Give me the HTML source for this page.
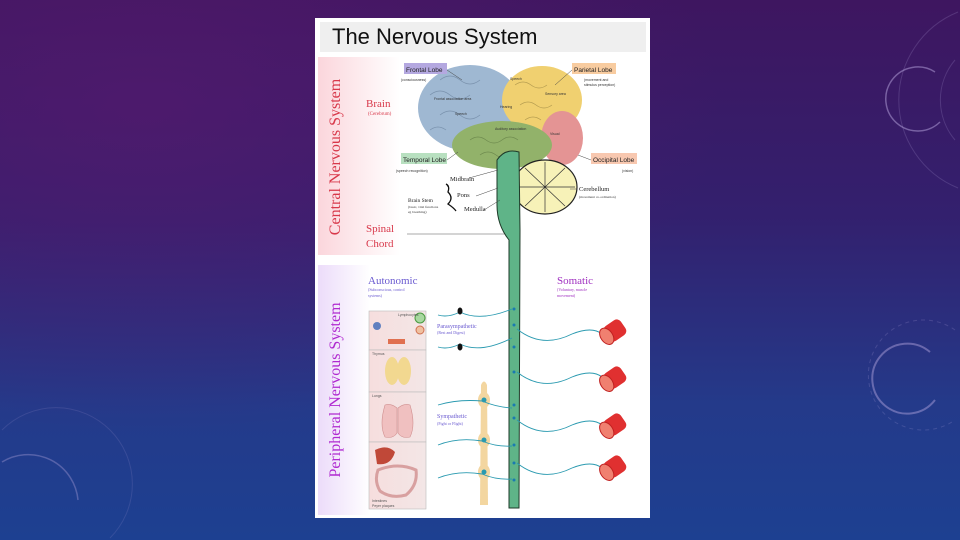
<!DOCTYPE html>
<html><head><meta charset="utf-8"><style>
html,body{margin:0;padding:0;width:960px;height:540px;overflow:hidden}
body{background:linear-gradient(180deg,#3e1660 0%,#33206e 40%,#243a8a 75%,#1d4091 100%)}
svg{position:absolute;left:0;top:0;overflow:hidden;display:block}
text{font-family:"Liberation Serif",serif}
.s{font-family:"Liberation Sans",sans-serif}
</style></head><body>
<svg width="960" height="540" viewBox="0 0 960 540" xmlns="http://www.w3.org/2000/svg">
<defs>
<radialGradient id="bg1" cx="0.15" cy="0.2" r="0.6"><stop offset="0" stop-color="#5a1a70" stop-opacity=".6"/><stop offset="1" stop-color="#5a1a70" stop-opacity="0"/></radialGradient>
<linearGradient id="cns" x1="0" x2="1"><stop offset="0" stop-color="#fbd6dc"/><stop offset="1" stop-color="#fff"/></linearGradient>
<linearGradient id="pns" x1="0" x2="1"><stop offset="0" stop-color="#ecdcfa"/><stop offset="1" stop-color="#fff"/></linearGradient>
<linearGradient id="org" x1="0" x2="1"><stop offset="0" stop-color="#f6dede"/><stop offset="1" stop-color="#f3e6e6"/></linearGradient>
</defs>
<rect width="960" height="540" fill="url(#bg1)"/>
<!-- decorations (kept inside frame) -->
<g fill="none" stroke="#b9a8e0" stroke-opacity=".2">
<path d="M958 12 A95 95 0 0 0 958 188"/>
<path d="M955 60 A62 62 0 0 0 955 140"/>
<path d="M935 72 A32 32 0 1 0 940 122" stroke-width="1.5" stroke-opacity=".5"/>
<path d="M955 330 A55 55 0 1 0 955 420" stroke-dasharray="4 4"/>
<path d="M930 352 A35 35 0 1 0 935 400" stroke-width="2" stroke-opacity=".45"/>
<path d="M2 430 A75 75 0 0 1 110 538" stroke-opacity=".15"/>
<path d="M2 462 A50 50 0 0 1 78 500" stroke-width="1.5" stroke-opacity=".35"/>
</g>
<!-- panel -->
<rect x="315" y="18" width="335" height="500" fill="#fff"/>
<rect x="320" y="22" width="326" height="30" fill="#efefef"/>
<text x="332" y="44" class="s" font-size="22" fill="#111">The Nervous System</text>
<rect x="318" y="57" width="82" height="198" fill="url(#cns)"/>
<rect x="318" y="265" width="52" height="250" fill="url(#pns)"/>
<text transform="translate(340,157) rotate(-90)" text-anchor="middle" font-size="16" fill="#d8384a">Central Nervous System</text>
<text transform="translate(340,390) rotate(-90)" text-anchor="middle" font-size="16" fill="#b02ad0">Peripheral Nervous System</text>
<text x="366" y="107" font-size="11" fill="#d8384a">Brain</text>
<text x="368" y="115" font-size="5" fill="#d8384a">(Cerebrum)</text>
<text x="366" y="232" font-size="11" fill="#d8384a">Spinal</text>
<text x="366" y="247" font-size="11" fill="#d8384a">Chord</text>
<line x1="407" y1="234" x2="512" y2="234" stroke="#555" stroke-width=".6"/>
<!-- brain -->
<ellipse cx="470" cy="108" rx="52" ry="43" fill="#9fb8d2"/>
<ellipse cx="542" cy="100" rx="40" ry="34" fill="#f0d070"/>
<ellipse cx="562" cy="138" rx="21" ry="27" fill="#e49494"/>
<ellipse cx="502" cy="145" rx="50" ry="24" fill="#92b26a"/>
<g fill="none" stroke="#6f87a3" stroke-width=".7" opacity=".8">
<path d="M430 95 q10-8 20 0 t20 0 M440 115 q10-8 20 0 t20 0 M430 130 q8-6 16 0 M440 80 q10-8 20 0 t20 0"/>
</g>
<g fill="none" stroke="#b49c50" stroke-width=".7"><path d="M515 85 q8-6 16 0 t16 0 M520 105 q8-6 16 0 t16 0 M525 120 q8-6 16 0"/></g>
<g fill="none" stroke="#6e8a4e" stroke-width=".7"><path d="M470 140 q8-6 16 0 t16 0 t16 0 M480 155 q8-6 16 0 t16 0"/></g>
<g fill="#333" class="s" font-size="3.5"><text x="434" y="100" class="s">Frontal association area</text><text x="455" y="115" class="s">Speech</text><text x="500" y="108" class="s">Hearing</text><text x="510" y="80" class="s">Speech</text><text x="495" y="130" class="s">Auditory association</text><text x="545" y="95" class="s">Sensory area</text><text x="550" y="135" class="s">Visual</text></g>
<!-- cerebellum -->
<ellipse cx="545" cy="187" rx="32" ry="27" fill="#f7f2b8" stroke="#222" stroke-width="1.2"/>
<g stroke="#333" stroke-width=".7"><path d="M545 187 L525 168 M545 187 L545 162 M545 187 L565 168 M545 187 L575 187 M545 187 L565 206 M545 187 L545 212 M545 187 L525 206 M545 187 L516 187"/></g>
<!-- brainstem & cord -->
<path d="M497 160 Q505 148 519 152 L520 230 L519 508 L509 508 L509 240 Q497 225 497 205 Z" fill="#5fb488" stroke="#1e3a28" stroke-width="1"/>
<!-- labels CNS -->
<rect x="404" y="63" width="43" height="11" fill="#b4a8e0"/><text x="406" y="72" class="s" font-size="6.5" fill="#222">Frontal Lobe</text>
<text x="401" y="81" class="s" font-size="3.5" fill="#333">(consciousness)</text>
<rect x="572" y="63" width="44" height="11" fill="#f8cca0"/><text x="574" y="72" class="s" font-size="6.5" fill="#222">Parietal Lobe</text>
<text x="584" y="81" class="s" font-size="3.5" fill="#333">(movement and</text><text x="584" y="86" class="s" font-size="3.5" fill="#333">stimulus perception)</text>
<rect x="401" y="153" width="46" height="11" fill="#b8e0c0"/><text x="403" y="162" class="s" font-size="6.5" fill="#222">Temporal Lobe</text>
<text x="396" y="172" class="s" font-size="3.5" fill="#333">(speech recognition)</text>
<rect x="591" y="153" width="46" height="11" fill="#f8c8b0"/><text x="593" y="162" class="s" font-size="6.5" fill="#222">Occipital Lobe</text>
<text x="622" y="172" class="s" font-size="3.5" fill="#333">(vision)</text>
<g stroke="#444" stroke-width=".5"><line x1="447" y1="70" x2="462" y2="80"/><line x1="572" y1="70" x2="555" y2="85"/><line x1="447" y1="160" x2="458" y2="152"/><line x1="591" y1="160" x2="578" y2="155"/><line x1="469" y1="178" x2="498" y2="170"/><line x1="476" y1="196" x2="498" y2="188"/><line x1="484" y1="210" x2="500" y2="200"/><line x1="577" y1="189" x2="570" y2="189"/></g>
<text x="450" y="181" font-size="6.5" fill="#222">Midbrain</text>
<text x="457" y="197" font-size="6.5" fill="#222">Pons</text>
<text x="464" y="211" font-size="6.5" fill="#222">Medulla</text>
<text x="408" y="202" font-size="5.5" fill="#222">Brain Stem</text>
<text x="408" y="208" font-size="3.5" fill="#333">(basic, vital functions</text><text x="408" y="213" font-size="3.5" fill="#333">eg breathing)</text>
<path d="M446 184 q4 2 2 8 q6 6 0 12 q6 4 8 7" fill="none" stroke="#111" stroke-width="1.3"/>
<text x="579" y="191" font-size="6.5" fill="#222">Cerebellum</text>
<text x="579" y="198" font-size="3.5" fill="#333">(movement co-ordination)</text>
<!-- PNS labels -->
<text x="368" y="284" font-size="11" fill="#6a5ad0">Autonomic</text>
<text x="368" y="291" font-size="4" fill="#6a5ad0">(Subconscious, control</text><text x="368" y="297" font-size="4" fill="#6a5ad0">systems)</text>
<text x="557" y="284" font-size="11" fill="#a030c0">Somatic</text>
<text x="557" y="291" font-size="4" fill="#a030c0">(Voluntary, muscle</text><text x="557" y="297" font-size="4" fill="#a030c0">movement)</text>
<text x="437" y="328" font-size="6" fill="#6a5ad0">Parasympathetic</text>
<text x="437" y="334" font-size="4" fill="#6a5ad0">(Rest and Digest)</text>
<text x="437" y="418" font-size="6" fill="#6a5ad0">Sympathetic</text>
<text x="437" y="425" font-size="4" fill="#6a5ad0">(Fight or Flight)</text>
<!-- organ panels -->
<g stroke="#bbb" stroke-width=".6" fill="url(#org)">
<rect x="369" y="311" width="57" height="39"/><rect x="369" y="350" width="57" height="42"/><rect x="369" y="392" width="57" height="50"/><rect x="369" y="442" width="57" height="67"/></g>
<circle cx="420" cy="318" r="5" fill="#a8d8a0" stroke="#4a9a40"/><circle cx="377" cy="326" r="4" fill="#6080c0"/><circle cx="420" cy="330" r="4" fill="#f0c0a0" stroke="#d07050"/><rect x="388" y="339" width="17" height="5" fill="#e07050"/>
<ellipse cx="392" cy="371" rx="7" ry="14" fill="#f2d890"/><ellipse cx="404" cy="371" rx="7" ry="14" fill="#f2d890"/>
<path d="M385 405 q-6 20 0 32 q8 2 12-4 l0-25 q-6-5-12-3z M410 405 q6 20 0 32 q-8 2-12-4 l0-25 q6-5 12-3z" fill="#f0c0c0" stroke="#d09090" stroke-width=".6"/>
<path d="M375 450 q12-6 20 2 q-4 14-18 12z" fill="#c04838"/>
<path d="M378 470 q20-8 38 0 q2 15-10 25 q-15 4-26-4 q-6-10-2-21z" fill="none" stroke="#d8a0a0" stroke-width="3"/>
<g font-size="3.5" class="s" fill="#555"><text x="372" y="355" class="s">Thymus</text><text x="372" y="397" class="s">Lungs</text><text x="372" y="502" class="s">Intestines</text><text x="372" y="507" class="s">Peyer plaques</text><text x="398" y="316" class="s">Lymphocytes</text></g>
<!-- sympathetic chain -->
<path d="M481 385 Q484 378 487 385 L488 505 L480 505 Z" fill="#f3d6a0"/>
<g fill="#f3d6a0"><ellipse cx="484" cy="400" rx="6" ry="8"/><ellipse cx="484" cy="440" rx="6" ry="8"/><ellipse cx="484" cy="472" rx="6" ry="8"/></g>
<g fill="#2a9ab0"><circle cx="484" cy="400" r="2.5"/><circle cx="484" cy="440" r="2.5"/><circle cx="484" cy="472" r="2.5"/></g>
<!-- nerves -->
<g fill="none" stroke="#2a9ab0" stroke-width=".9">
<path d="M438 315 q10 3 22-3 q20 10 52-3"/><path d="M438 347 q10 3 22-3 q20 10 52-6"/>
<path d="M438 405 q20-6 44-4 q14 6 30 7"/><path d="M438 445 q20-8 44-4 q14 6 30 5"/><path d="M438 478 q20-8 44-4 q14 6 30 5"/>
<path d="M517 329 q25 20 55 5 q20-8 30 0"/><path d="M517 372 q25 20 55 5 q20-8 30 0"/><path d="M517 420 q25 20 55 5 q20-8 30 0"/><path d="M517 463 q25 20 55 5 q20-8 30 0"/>
</g>
<g fill="#111"><ellipse cx="460" cy="311" rx="2.5" ry="3.5"/><ellipse cx="460" cy="347" rx="2.5" ry="3.5"/></g>
<g fill="#1a7ab0"><circle cx="514" cy="309" r="1.5"/><circle cx="514" cy="325" r="1.5"/><circle cx="514" cy="347" r="1.5"/><circle cx="514" cy="372" r="1.5"/><circle cx="514" cy="405" r="1.5"/><circle cx="514" cy="418" r="1.5"/><circle cx="514" cy="445" r="1.5"/><circle cx="514" cy="463" r="1.5"/><circle cx="514" cy="480" r="1.5"/></g>
<!-- muscles -->
<g>
<g transform="translate(610,334) rotate(-35)"><rect x="-4" y="-9" width="20" height="18" rx="5" fill="#e03030"/><ellipse cx="-4" cy="0" rx="6" ry="9" fill="#f08070" stroke="#c02020"/></g>
<g transform="translate(610,381) rotate(-35)"><rect x="-4" y="-9" width="20" height="18" rx="5" fill="#e03030"/><ellipse cx="-4" cy="0" rx="6" ry="9" fill="#f08070" stroke="#c02020"/></g>
<g transform="translate(610,428) rotate(-35)"><rect x="-4" y="-9" width="20" height="18" rx="5" fill="#e03030"/><ellipse cx="-4" cy="0" rx="6" ry="9" fill="#f08070" stroke="#c02020"/></g>
<g transform="translate(610,470) rotate(-35)"><rect x="-4" y="-9" width="20" height="18" rx="5" fill="#e03030"/><ellipse cx="-4" cy="0" rx="6" ry="9" fill="#f08070" stroke="#c02020"/></g>
</g>
</svg>
</body></html>
